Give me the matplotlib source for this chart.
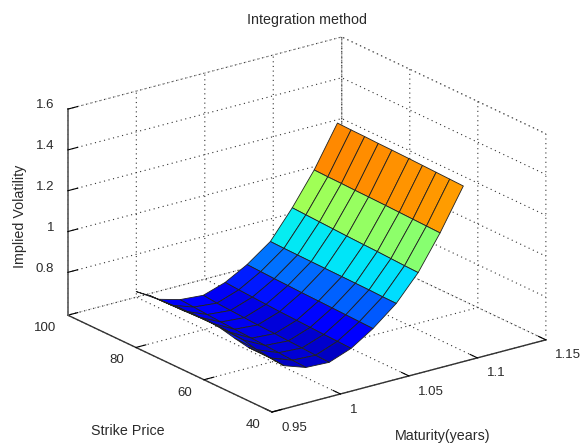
import matplotlib
matplotlib.use("Agg")
import matplotlib.pyplot as plt
import numpy as np
from matplotlib.colors import Normalize
from mpl_toolkits.mplot3d import proj3d

plt.rcParams["font.family"] = ["Liberation Sans", "DejaVu Sans"]

maturity = [0.98, 0.996, 1.012, 1.029, 1.045, 1.061, 1.078, 1.094, 1.11, 1.127]
strike = [55, 59, 63, 67, 71, 76, 80, 84, 88, 92]
# implied vol, one row per strike, one column per maturity
vol_55 = [.706, .617, .580, .575, .615, .684, .777, .900, 1.066, 1.266]
vol_59 = [.703, .623, .584, .578, .618, .686, .778, .902, 1.068, 1.268]
vol_63 = [.716, .632, .589, .582, .620, .688, .780, .905, 1.070, 1.270]
vol_67 = [.732, .648, .593, .585, .623, .690, .781, .908, 1.072, 1.272]
vol_71 = [.739, .655, .597, .589, .626, .692, .782, .910, 1.074, 1.274]
vol_76 = [.738, .658, .601, .592, .629, .694, .783, .913, 1.076, 1.276]
vol_80 = [.736, .657, .605, .596, .633, .697, .784, .916, 1.077, 1.277]
vol_84 = [.731, .654, .610, .600, .637, .699, .785, .919, 1.079, 1.279]
vol_88 = [.728, .652, .615, .604, .641, .702, .786, .922, 1.080, 1.280]
vol_92 = [.716, .650, .620, .611, .646, .705, .788, .925, 1.082, 1.282]

x_ticks = [0.95, 1, 1.05, 1.1, 1.15]
y_ticks = [40, 60, 80, 100]
z_ticks = [0.8, 1, 1.2, 1.4, 1.6]

W, H = 582, 448
TEXT = "#2a2a2a"
DOTS = (0, (1, 3.2))
fig = plt.figure(figsize=(W / 100, H / 100), dpi=100)
ax = fig.add_axes([0.1, 0.1, 0.8, 0.8], projection="3d", proj_type="ortho")
ax.view_init(elev=20.7, azim=-126.7)
ax.set_box_aspect((1, 1, 0.645))

X, Y = np.meshgrid(maturity, strike)
Z = np.array([vol_55, vol_59, vol_63, vol_67, vol_71, vol_76, vol_80, vol_84, vol_88, vol_92])
# the two falling rows at short maturity take their colour from further along
C = Z.copy()
C[:, 0] = Z[:, 1]
C[:, 1] = Z[:, 3]
colors = plt.cm.jet(Normalize(0.53, 1.25)(C))
ax.plot_surface(X, Y, Z, facecolors=colors, rstride=1, cstride=1, shade=False,
                edgecolor="#202020", linewidth=0.6, antialiased=True)

ax.set_xlim(0.95, 1.15)
ax.set_ylim(40, 100)
ax.set_zlim(0.59, 1.6)
ax.set_xticks(x_ticks)
ax.set_xticklabels(["0.95", "1", "1.05", "1.1", "1.15"], ha="left", va="center_baseline", fontsize=9.5, color=TEXT)
ax.set_yticks(y_ticks)
ax.set_yticklabels(["40", "60", "80", "100"], ha="right", va="center_baseline", fontsize=9.5, color=TEXT)
ax.set_zticks(z_ticks)
ax.set_zticklabels(["0.8", "1", "1.2", "1.4", "1.6"], ha="right", va="baseline", fontsize=9.5, color=TEXT)
ax.tick_params(axis="x", pad=1)
ax.tick_params(axis="y", pad=0)
ax.tick_params(axis="z", pad=-2.5)

for axis in (ax.xaxis, ax.yaxis, ax.zaxis):
    axis.pane.set_facecolor("white")
    axis.pane.set_edgecolor("#333333")
    axis.pane.set_linestyle(DOTS)
    axis.pane.set_linewidth(0.8)
    axis.line.set_color("#333333")
    axis.line.set_linewidth(1.0)
    axis._axinfo["grid"].update(color="#333333", linestyle=DOTS, linewidth=0.8)
    axis._axinfo["tick"].update(inward_factor=0.0, outward_factor=0.45, linewidth={True: 0.8, False: 0.8})
ax.zaxis.line.set_color("#666666")
ax.zaxis.line.set_linewidth(1.3)

fig.text(307 / W, 1 - 20 / H, "Integration method", ha="center", va="center", fontsize=10.3, color=TEXT)
fig.text(128 / W, 1 - 431 / H, "Strike Price", ha="center", va="center", fontsize=10.3, color=TEXT)
fig.text(443 / W, 1 - 436 / H, "Maturity(years)", ha="center", va="center", fontsize=10.3, color=TEXT)
fig.text(20 / W, 1 - 216 / H, "Implied Volatility", ha="center", va="center", rotation=90, fontsize=10.3, color=TEXT)


# line the box up with the corners seen in the picture
def corner(cx, cy, cz):
    px, py, _ = proj3d.proj_transform(cx, cy, cz, ax.get_proj())
    return ax.transData.transform((px, py))


fig.canvas.draw()
scale = (545 - 67) / (corner(1.15, 40, 0.59)[0] - corner(0.95, 100, 0.59)[0])
pos = ax.get_position()
ax.set_position([pos.x0, pos.y0, pos.width * scale, pos.height * scale])
fig.canvas.draw()
front = corner(0.95, 40, 0.59)
pos = ax.get_position()
ax.set_position([pos.x0 + (272 - front[0]) / W, pos.y0 + (H - 412 - front[1]) / H, pos.width, pos.height])

fig.savefig("out.png", dpi=100)
